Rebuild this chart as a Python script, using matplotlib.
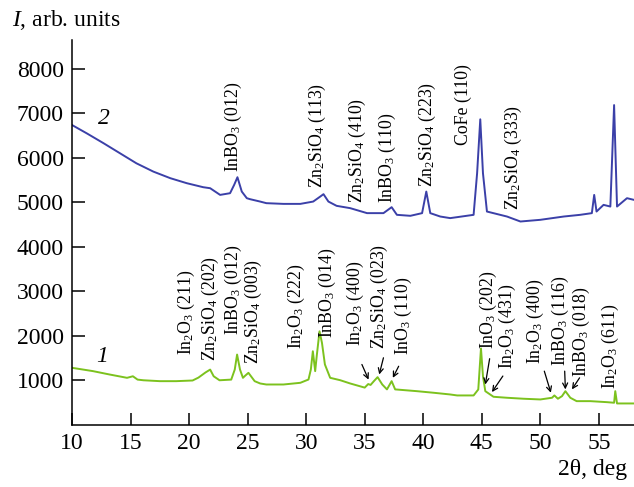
import numpy as np
import matplotlib
matplotlib.use('Agg')
import matplotlib.pyplot as plt

plt.rcParams['font.family'] = ['Liberation Serif', 'DejaVu Serif']
plt.rcParams['mathtext.fontset'] = 'custom'
plt.rcParams['mathtext.rm'] = 'Liberation Serif'
plt.rcParams['mathtext.it'] = 'Liberation Serif:italic'

# curve 1 (green)
two_theta_1 = [10.0, 11.8, 13.2, 14.7, 15.2, 15.6, 16.1, 17.5, 18.9, 20.3, 20.8,
               21.4, 21.8, 22.1, 22.6, 23.6, 23.9, 24.1, 24.35, 24.6, 24.8,
               25.07, 25.6, 26.07, 26.6, 28.06, 29.5, 30.2, 30.4, 30.57, 30.77,
               30.9, 31.14, 31.35, 31.6, 32.05, 32.9, 33.76, 35.0, 35.3, 35.5,
               35.8, 36.1, 36.5, 36.9, 37.3, 37.6, 39.46, 40.9, 42.3, 42.9,
               44.3, 44.7, 44.93, 45.1, 45.3, 46.0, 47.15, 48.57, 50.0, 51.0,
               51.2, 51.5, 51.85, 52.14, 52.56, 53.1, 54.27, 55.7, 56.3, 56.4,
               56.55, 58.0]
intensity_1 = [1285, 1210, 1135, 1060, 1095, 1020, 1005, 985, 985, 1000, 1065,
               1180, 1245, 1095, 1005, 1020, 1245, 1583, 1245, 1060, 1110,
               1172, 985, 933, 910, 910, 948, 1022, 1247, 1657, 1210,
               1545, 2105, 1845, 1360, 1060, 1007, 933, 840, 920, 900,
               990, 1075, 910, 800, 985, 800, 760, 724, 686, 664,
               664, 798, 1720, 1097, 760, 634, 612, 590, 574, 612,
               664, 590, 648, 760, 612, 536, 536, 513, 500, 760,
               484, 484]

# curve 2 (blue)
two_theta_2 = [10.0, 11.26, 12.7, 14.1, 15.5, 16.95, 18.4, 19.8, 21.2, 21.8,
               22.65, 23.5, 23.85, 24.13, 24.5, 24.93, 25.2, 26.07, 26.6, 28.06,
               29.5, 30.6, 31.2, 31.48, 31.9, 32.6, 33.76, 35.2, 36.6, 37.3,
               37.75, 38.9, 39.9, 40.26, 40.6, 41.45, 42.3, 42.9, 44.3, 44.6,
               44.87, 45.1, 45.44, 47.15, 48.3, 50.0, 52.0, 53.4, 54.4, 54.6,
               54.8, 55.4, 55.98, 56.3, 56.55, 57.4, 58.0]
intensity_2 = [6740, 6553, 6330, 6105, 5880, 5693, 5545, 5433, 5343, 5320,
               5170, 5208, 5395, 5567, 5245, 5096, 5074, 5020, 4984, 4968,
               4968, 5020, 5132, 5186, 5020, 4924, 4872, 4760, 4760, 4894,
               4722, 4700, 4760, 5245, 4760, 4684, 4648, 4670, 4722, 5657,
               6868, 5657, 4796, 4684, 4572, 4610, 4684, 4722, 4760, 5170,
               4796, 4946, 4908, 7188, 4908, 5096, 5058]

x_ticks = [10, 15, 20, 25, 30, 35, 40, 45, 50, 55]
y_ticks = [1000, 2000, 3000, 4000, 5000, 6000, 7000, 8000]

# peak labels of curve 2: text, x, y of label bottom
labels_2 = [
    ('InBO$_3$ (012)', 23.8, 5680),
    ('Zn$_2$SiO$_4$ (113)', 31.0, 5330),
    ('Zn$_2$SiO$_4$ (410)', 34.35, 4990),
    ('InBO$_3$ (110)', 36.9, 4990),
    ('Zn$_2$SiO$_4$ (223)', 40.35, 5350),
    ('CoFe (110)', 43.4, 6290),
    ('Zn$_2$SiO$_4$ (333)', 47.7, 4830),
]
# peak labels of curve 1: text, x, y of label bottom, arrow tail, arrow tip
labels_1 = [
    ('In$_2$O$_3$ (211)', 19.8, 1580, None, None),
    ('Zn$_2$SiO$_4$ (202)', 21.8, 1430, None, None),
    ('InBO$_3$ (012)', 23.8, 2030, None, None),
    ('Zn$_2$SiO$_4$ (003)', 25.5, 1360, None, None),
    ('In$_2$O$_3$ (222)', 29.2, 1700, None, None),
    ('InBO$_3$ (014)', 31.8, 1965, None, None),
    ('In$_2$O$_3$ (400)', 34.2, 1770, (34.76, 1360), (35.33, 1020)),
    ('Zn$_2$SiO$_4$ (023)', 36.3, 1700, (36.6, 1510), (36.24, 1135)),
    ('InO$_3$ (110)', 38.3, 1580, (37.9, 1320), (37.4, 1060)),
    ('InO$_3$ (202)', 45.55, 1700, (45.67, 1490), (45.3, 910)),
    ('In$_2$O$_3$ (431)', 47.2, 1250, (46.8, 1100), (45.87, 740)),
    ('In$_2$O$_3$ (400)', 49.6, 1360, (50.34, 1210), (50.9, 725)),
    ('InBO$_3$ (116)', 51.75, 1315, (52.08, 1210), (52.14, 800)),
    ('InBO$_3$ (018)', 53.55, 1070, (53.35, 1060), (52.7, 800)),
    ('In$_2$O$_3$ (611)', 56.0, 800, None, None),
]

fig = plt.figure(figsize=(6.34, 4.87), dpi=100)
ax = fig.add_axes([72 / 634, 1 - 425 / 487, 562 / 634, 385 / 487])

ax.plot(two_theta_2, intensity_2, color='#3b40a8', lw=1.4)
ax.plot(two_theta_1, intensity_1, color='#7cc21e', lw=1.4)

ax.set_xlim(10, 58)
ax.set_ylim(0, 8650)
ax.set_xticks(x_ticks)
ax.set_yticks(y_ticks)
ax.spines['top'].set_visible(False)
ax.spines['right'].set_visible(False)
for s in ['left', 'bottom']:
    ax.spines[s].set_linewidth(1.1)
ax.tick_params(axis='both', direction='in', length=9, width=1.1, labelsize=17)
ax.tick_params(axis='x', pad=6)
ax.tick_params(axis='y', pad=6)

for txt, x, y in labels_2:
    ax.text(x, y, txt, rotation=90, ha='center', va='bottom', fontsize=12.8)
for txt, x, y, tail, tip in labels_1:
    ax.text(x, y, txt, rotation=90, ha='center', va='bottom', fontsize=12.8)
    if tail is not None:
        ax.annotate('', xy=tip, xytext=tail,
                    arrowprops=dict(arrowstyle='->', color='black', lw=0.9,
                                    shrinkA=0, shrinkB=0, mutation_scale=9))

ax.text(12.7, 6890, '2', fontsize=17, fontstyle='italic', ha='center', va='center')
ax.text(12.6, 1540, '1', fontsize=17, fontstyle='italic', ha='center', va='center')

fig.text(12 / 634, 1 - 20 / 487, '$I$, arb. units', fontsize=17, ha='left', va='center')
fig.text(627 / 634, 1 - 470 / 487, '2θ, deg', fontsize=17, ha='right', va='center')

fig.savefig('out.png', dpi=100)
